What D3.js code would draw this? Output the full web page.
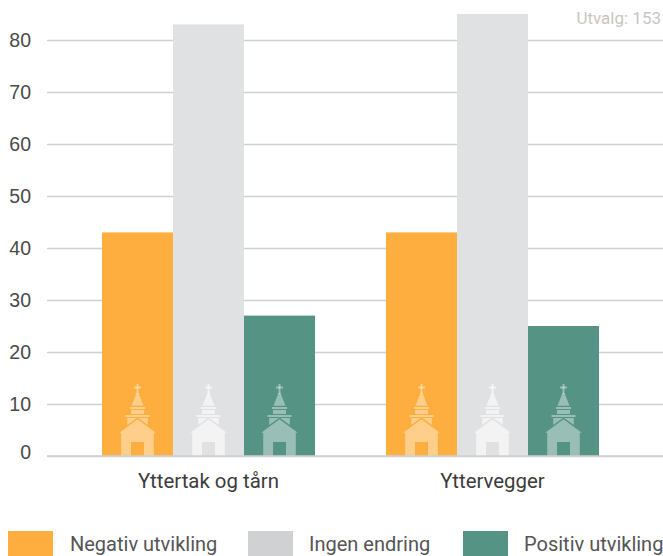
<!DOCTYPE html>
<html>
<head>
<meta charset="utf-8">
<script src="https://cdn.jsdelivr.net/npm/d3@7"></script>
<style>
  html, body { margin: 0; padding: 0; background: #fff; }
  svg { display: block; font-family: Roboto, sans-serif; }
</style>
</head>
<body>
<svg width="663" height="556"></svg>
<script>
const categories = ["Yttertak og tårn", "Yttervegger"];
const seriesNames = ["Negativ utvikling", "Ingen endring", "Positiv utvikling"];
const negativ = [43, 43];
const ingen = [83, 85];
const positiv = [27, 25];
const yTicks = [0, 10, 20, 30, 40, 50, 60, 70, 80];
const seriesValues = [negativ, ingen, positiv];
const barColors = ["#fdae3f", "#e0e1e3", "#559385"];
const swatchColors = ["#fdae3f", "#d0d1d3", "#559385"];
const churchOpacity = [0.4, 0.6, 0.4];

const svg = d3.select("svg");

const y = d3.scaleLinear().domain([0, 80]).range([456, 40]);
const x0 = d3.scaleBand().domain(categories).range([66.5, 634.5])
  .paddingInner(0.25).paddingOuter(0.125);
const x1 = d3.scaleBand().domain(d3.range(seriesNames.length)).range([0, x0.bandwidth()]);

// grid and tick labels
const yAxis = d3.axisLeft(y).tickValues(yTicks).tickSize(-618).tickPadding(12);
const gy = svg.append("g").attr("transform", "translate(47,0)").call(yAxis);
gy.select(".domain").remove();
gy.selectAll("line").attr("stroke", "#cfd0d0").attr("stroke-width", 1.5);
gy.selectAll("text")
  .attr("fill", "#4a4a4a")
  .style("font-size", "19.5px")
  .attr("x", -16)
  .attr("dy", d => d === 0 ? "0.15em" : "0.34em");

// little church on each bar, origin at the bottom centre
function drawChurch(parent, cx, base, op) {
  const c = parent.append("g")
    .attr("transform", `translate(${cx},${base})`)
    .attr("fill", "#fff")
    .attr("fill-opacity", op);
  c.append("path").attr("d",
    "M-18.3,-23.3 L0,-36.7 L18.3,-23.3 L16.3,-23.3 L16.3,0 L6.5,0 L6.5,-14 L-6.5,-14 L-6.5,0 L-16.3,0 L-16.3,-23.3 Z");
  c.append("path").attr("d", "M-10.3,-38 L10.3,-38 L10.3,-31 L0,-38.4 L-10.3,-31 Z");
  c.append("rect").attr("x", -12).attr("y", -41).attr("width", 24).attr("height", 2);
  c.append("rect").attr("x", -6.5).attr("y", -46).attr("width", 13).attr("height", 4);
  c.append("rect").attr("x", -7.5).attr("y", -49).attr("width", 15).attr("height", 2);
  c.append("path").attr("d", "M-6,-50.3 L6,-50.3 L1,-63 L-1,-63 Z");
  c.append("rect").attr("x", -1).attr("y", -72).attr("width", 2).attr("height", 10);
  c.append("rect").attr("x", -3.5).attr("y", -69.5).attr("width", 7).attr("height", 2);
}

// bars
const groups = svg.append("g").selectAll("g").data(categories).join("g")
  .attr("transform", d => `translate(${x0(d)},0)`);

groups.each(function (cat, ci) {
  const g = d3.select(this);
  seriesValues.forEach((vals, si) => {
    g.append("rect")
      .attr("x", x1(si))
      .attr("y", y(vals[ci]))
      .attr("width", x1.bandwidth())
      .attr("height", y(0) - y(vals[ci]))
      .attr("fill", barColors[si]);
    drawChurch(g, x1(si) + x1.bandwidth() / 2, y(0), churchOpacity[si]);
  });
});

// baseline over the bars
svg.append("line").attr("x1", 47).attr("x2", 663).attr("y1", y(0)).attr("y2", y(0))
  .attr("stroke", "#cfd0d0").attr("stroke-width", 1.5);

// category labels
svg.append("g").selectAll("text").data(categories).join("text")
  .attr("x", d => x0(d) + x0.bandwidth() / 2)
  .attr("y", 488)
  .attr("text-anchor", "middle")
  .attr("fill", "#3c3c3c")
  .style("font-size", "20.4px")
  .text(d => d);

// legend
const swatchX = [8, 248, 463];
const legendTextX = [70, 309, 524];
seriesNames.forEach((name, i) => {
  svg.append("rect").attr("x", swatchX[i]).attr("y", 531)
    .attr("width", 45).attr("height", 25).attr("fill", swatchColors[i]);
  svg.append("text").attr("x", legendTextX[i]).attr("y", 551)
    .attr("fill", "#555")
    .style("font-size", "20px")
    .text(name);
});

svg.append("text").attr("x", 661).attr("y", 24)
  .attr("text-anchor", "end")
  .attr("fill", "#c8c6c3")
  .style("font-size", "17px")
  .text("Utvalg: 153");
</script>
</body>
</html>
